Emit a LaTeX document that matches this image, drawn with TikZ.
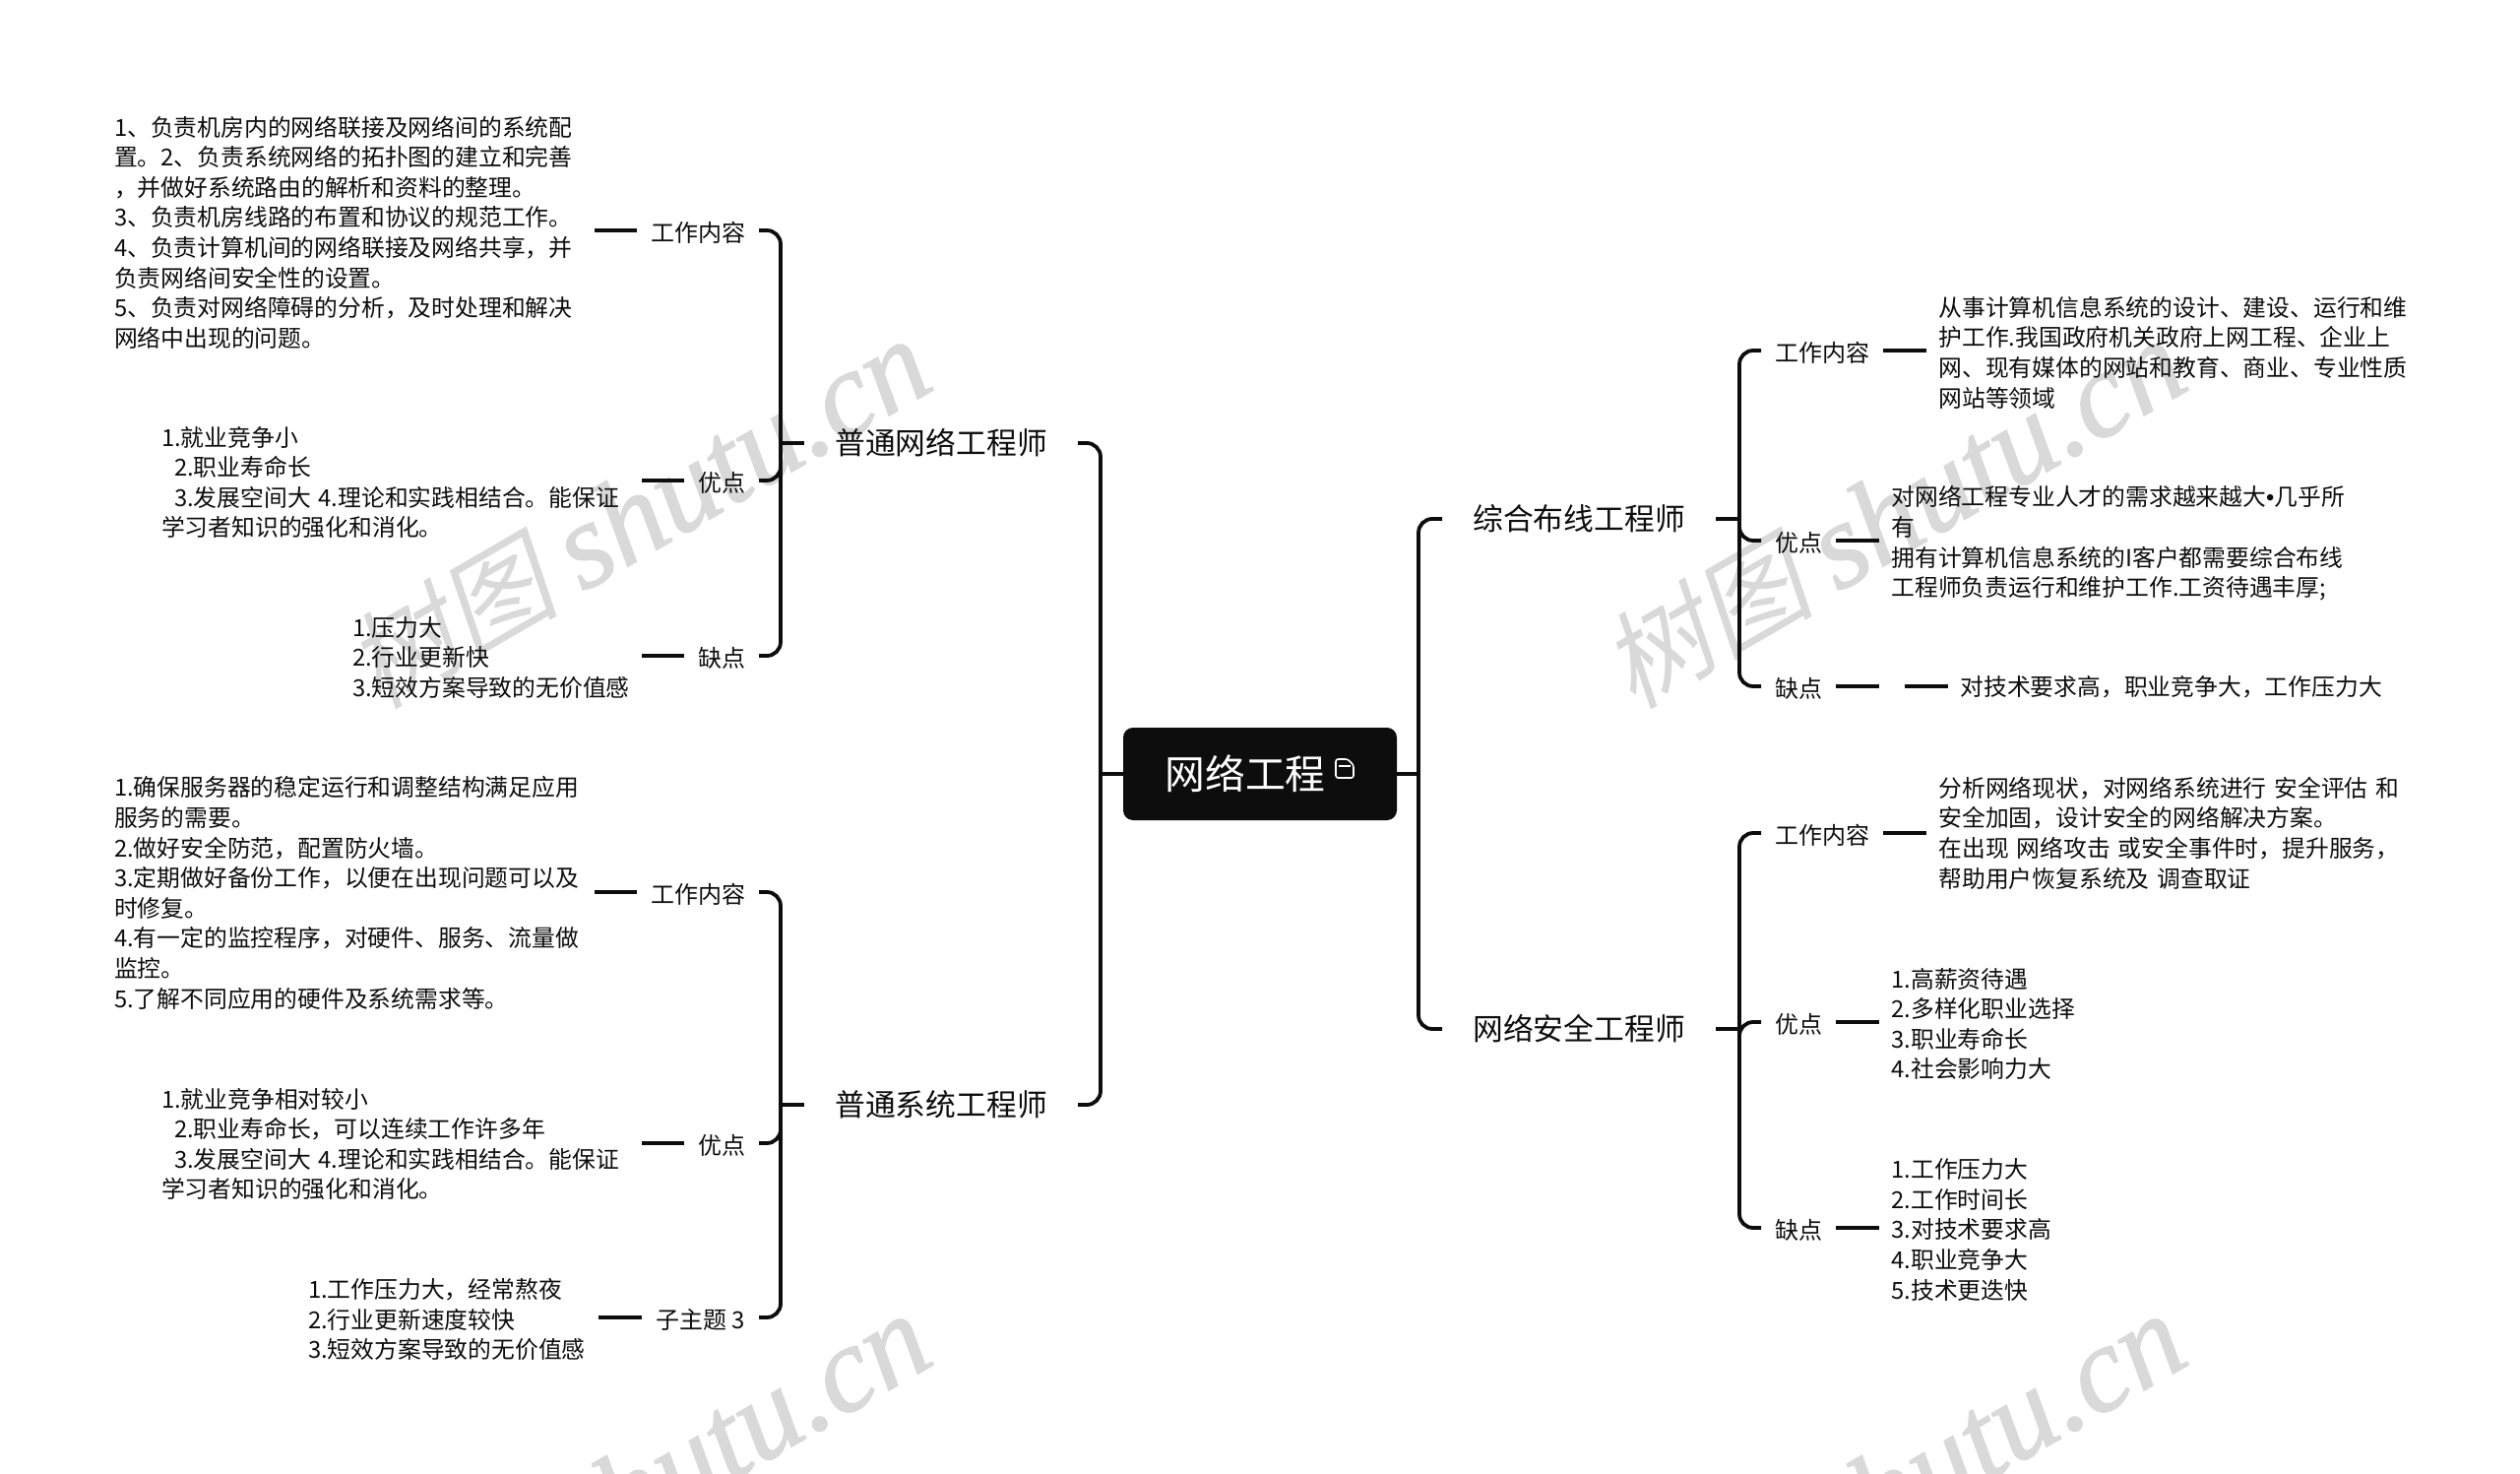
\documentclass[tikz,border=0pt]{standalone}
\usepackage{fontspec}
\setmainfont{Noto Sans CJK SC}
\newfontfamily\wmlatin[FakeBold=1.2]{Liberation Serif Italic}
\newfontfamily\wmcjk[FakeSlant=0.2]{Noto Sans CJK SC}
\newfontfamily\dotfont{Liberation Sans}
\definecolor{inkdark}{RGB}{13,13,13}
\definecolor{wmgray}{RGB}{217,217,217}
\usetikzlibrary{positioning}

\begin{document}
\begin{tikzpicture}[
  x=0.5pt, y=-0.5pt,
  every node/.style={outer sep=0pt, text=inkdark},
  rootbox/.style={rectangle, fill=inkdark, rounded corners=5pt, minimum width=139pt, minimum height=47pt, inner sep=0pt, font=\fontsize{20.4}{24}\selectfont, text=white},
  topic/.style={inner xsep=15.6pt, inner ysep=2pt, font=\fontsize{15.4}{18}\selectfont},
  sub/.style={inner xsep=7pt, inner ysep=2pt, text height=12.4pt, text depth=1pt, font=\fontsize{12}{15.3}\selectfont},
  detail/.style={align=left, text width=237pt, inner xsep=7pt, inner ysep=0pt, font=\fontsize{11.9}{15.3}\selectfont},
  rdetail/.style={detail, inner xsep=6.2pt},
  spacer/.style={minimum width=13pt, inner sep=0pt},
  link/.style={line width=1.9pt, inkdark, rounded corners=7pt},
  wmark/.style={rotate=30, text=wmgray, font=\fontsize{62}{62}\selectfont}
]
  \path[use as bounding box, clip] (0,0) rectangle (2560,1497);

  % watermarks
  \node[wmark] (wma) at (648,522) {\wmcjk\fontsize{54}{54}\selectfont 树图 \wmlatin\fontsize{62}{62}\selectfont shutu.cn};
  \node[wmark] (wmb) at (1923,522) {\wmcjk\fontsize{54}{54}\selectfont 树图 \wmlatin\fontsize{62}{62}\selectfont shutu.cn};
  \node[wmark] (wmc) at (648,1512) {\wmcjk\fontsize{54}{54}\selectfont 树图 \wmlatin\fontsize{62}{62}\selectfont shutu.cn};
  \node[wmark] (wmd) at (1923,1512) {\wmcjk\fontsize{54}{54}\selectfont 树图 \wmlatin\fontsize{62}{62}\selectfont shutu.cn};

  % centre
  \node[rootbox] (root) at (1280,786) {网络工程\hspace*{15pt}};
  \draw[white, line width=0.8pt, rounded corners=1.2pt] (1357,771) -- (1369,771) -- (1375,777) -- (1375,790) -- (1357,790) -- cycle;
  \draw[white, line width=0.8pt] (1360,778) -- (1372,778);

  % main topics
  \node[topic] (netw) at (956,450) {普通网络工程师};
  \node[topic] (syst) at (956,1122) {普通系统工程师};
  \node[topic] (cabl) at (1604,527) {综合布线工程师};
  \node[topic] (secu) at (1604,1045) {网络安全工程师};

  % left side, upper
  \node[sub, anchor=east] (netwjob) at (771,234) {工作内容};
  \node[sub, anchor=east] (netwpro) at (771,488) {优点};
  \node[sub, anchor=east] (netwcon) at (771,666) {缺点};
  \node[detail, anchor=east] (netwjobt) at (604,236) {1、负责机房内的网络联接及网络间的系统配\\置。2、负责系统网络的拓扑图的建立和完善\\，并做好系统路由的解析和资料的整理。\\3、负责机房线路的布置和协议的规范工作。\\4、负责计算机间的网络联接及网络共享，并\\负责网络间安全性的设置。\\5、负责对网络障碍的分析，及时处理和解决\\网络中出现的问题。};
  \node[detail, anchor=east] (netwprot) at (652,490) {1.就业竞争小\\\hspace*{6.5pt}2.职业寿命长\\\hspace*{6.5pt}3.发展空间大 4.理论和实践相结合。能保证\\学习者知识的强化和消化。};
  \node[detail, anchor=east, text width=140pt] (netwcont) at (652,668) {1.压力大\\2.行业更新快\\3.短效方案导致的无价值感};

  % left side, lower
  \node[sub, anchor=east] (systjob) at (771,906) {工作内容};
  \node[sub, anchor=east] (systpro) at (771,1161) {优点};
  \node[sub, anchor=east] (systcon) at (771,1338) {子主题 3};
  \node[detail, anchor=east] (systjobt) at (604,907) {1.确保服务器的稳定运行和调整结构满足应用\\服务的需要。\\2.做好安全防范，配置防火墙。\\3.定期做好备份工作，以便在出现问题可以及\\时修复。\\4.有一定的监控程序，对硬件、服务、流量做\\监控。\\5.了解不同应用的硬件及系统需求等。};
  \node[detail, anchor=east] (systprot) at (652,1162) {1.就业竞争相对较小\\\hspace*{6.5pt}2.职业寿命长，可以连续工作许多年\\\hspace*{6.5pt}3.发展空间大 4.理论和实践相结合。能保证\\学习者知识的强化和消化。};
  \node[detail, anchor=east, text width=140.5pt] (systcont) at (608,1340) {1.工作压力大，经常熬夜\\2.行业更新速度较快\\3.短效方案导致的无价值感};

  % right side, upper
  \node[sub, anchor=west] (cabljob) at (1789,356) {工作内容};
  \node[sub, anchor=west] (cablpro) at (1789,549) {优点};
  \node[sub, anchor=west] (cablcon) at (1789,697) {缺点};
  \node[rdetail, anchor=west] (cabljobt) at (1957,358) {从事计算机信息系统的设计、建设、运行和维\\护工作.我国政府机关政府上网工程、企业上\\网、现有媒体的网站和教育、商业、专业性质\\网站等领域};
  \node[rdetail, anchor=west] (cablprot) at (1909,552) {对网络工程专业人才的需求越来越大{\dotfont •}几乎所\\有\\拥有计算机信息系统的I客户都需要综合布线\\工程师负责运行和维护工作.工资待遇丰厚;};
  \node[spacer] (cablgap) at (1922,697) {};
  \node[rdetail, anchor=west] (cablcont) at (1979,698) {对技术要求高，职业竞争大，工作压力大};

  % right side, lower
  \node[sub, anchor=west] (secujob) at (1789,846) {工作内容};
  \node[sub, anchor=west] (secupro) at (1789,1038) {优点};
  \node[sub, anchor=west] (secucon) at (1789,1247) {缺点};
  \node[rdetail, anchor=west] (secujobt) at (1957,846) {分析网络现状，对网络系统进行 安全评估 和\\安全加固，设计安全的网络解决方案。\\在出现 网络攻击 或安全事件时，提升服务，\\帮助用户恢复系统及 调查取证};
  \node[rdetail, anchor=west] (secuprot) at (1909,1040) {1.高薪资待遇\\2.多样化职业选择\\3.职业寿命长\\4.社会影响力大};
  \node[rdetail, anchor=west] (secucont) at (1909,1249) {1.工作压力大\\2.工作时间长\\3.对技术要求高\\4.职业竞争大\\5.技术更迭快};

  % hubs on the trunks
  \coordinate (hubl) at (1118,786);
  \coordinate (hubr) at (1441,786);
  \coordinate (hubnetw) at (793,450);
  \coordinate (hubsyst) at (793,1122);
  \coordinate (hubcabl) at (1767,527);
  \coordinate (hubsecu) at (1767,1045);

  \draw[link] (root.west) -- (hubl);
  \draw[link] (root.east) -- (hubr);
  \draw[link] (hubl) |- (netw.east);
  \draw[link] (hubl) |- (syst.east);
  \draw[link] (hubr) |- (cabl.west);
  \draw[link] (hubr) |- (secu.west);

  \draw[link] (netw.west) -- (hubnetw);
  \draw[link] (syst.west) -- (hubsyst);
  \draw[link] (cabl.east) -- (hubcabl);
  \draw[link] (secu.east) -- (hubsecu);

  \foreach \topicname/\kid in {netw/netwjob, netw/netwpro, netw/netwcon, syst/systjob, syst/systpro, syst/systcon}
    \draw[link] (hub\topicname) |- (\kid.east);
  \foreach \topicname/\kid in {cabl/cabljob, cabl/cablpro, cabl/cablcon, secu/secujob, secu/secupro, secu/secucon}
    \draw[link] (hub\topicname) |- (\kid.west);

  \foreach \kid in {netwjob, netwpro, netwcon, systjob, systpro, systcon}
    \draw[link] (\kid.west) -- (\kid.west -| \kid t.east);
  \foreach \kid in {cabljob, cablpro, secujob, secupro, secucon}
    \draw[link] (\kid.east) -- (\kid.east -| \kid t.west);

  \draw[link] (cablcon.east) -- (cablgap.west);
  \draw[link] (cablgap.east) -- (cablgap.east -| cablcont.west);
\end{tikzpicture}
\end{document}
